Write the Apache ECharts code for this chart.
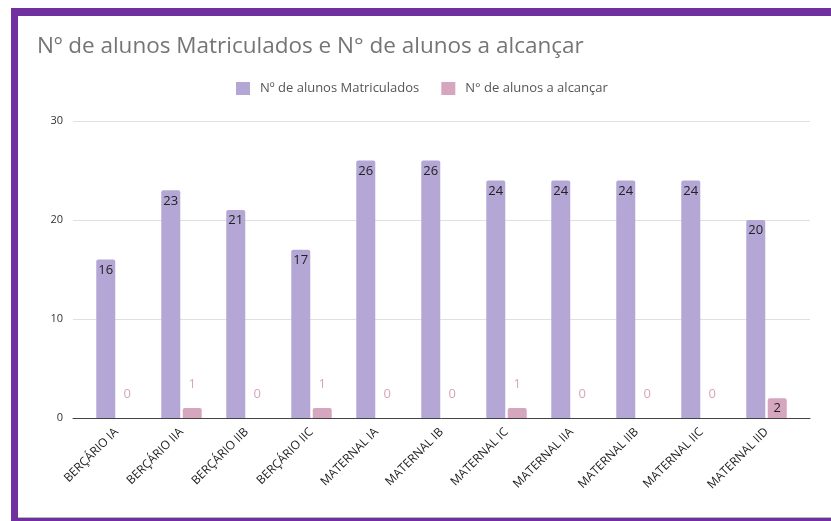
<!DOCTYPE html>
<html>
<head>
<meta charset="utf-8">
<script src="https://cdn.jsdelivr.net/npm/echarts@6/dist/echarts.min.js"></script>
<style>
  html, body { margin: 0; padding: 0; background: #fff; overflow: hidden; }
  #chart { position: absolute; left: 0; top: 0; width: 831px; height: 521px; }
  /* moldura roxa da captura */
  #frame {
    position: absolute; left: 11px; top: 8px; width: 840px; height: 513px;
    box-sizing: border-box;
    border-top: 8px solid #7030a0;
    border-left: 7px solid #7030a0;
    border-bottom: 3px solid #7030a0;
    box-shadow: inset 0 -1px 0 #b8b8b8;
    pointer-events: none;
  }
</style>
</head>
<body>
<div id="chart"></div>
<div id="frame"></div>
<script>
// categorias (turmas)
const turmas = ['BERÇÁRIO IA', 'BERÇÁRIO IIA', 'BERÇÁRIO IIB', 'BERÇÁRIO IIC', 'MATERNAL IA',
  'MATERNAL IB', 'MATERNAL IC', 'MATERNAL IIA', 'MATERNAL IIB', 'MATERNAL IIC', 'MATERNAL IID']
// Nº de alunos Matriculados
const matriculados = [16, 23, 21, 17, 26, 26, 24, 24, 24, 24, 20]
// N° de alunos a alcançar
const alcancar = [0, 1, 0, 1, 0, 0, 1, 0, 0, 0, 2]
// eixo y
const yTicks = [0, 10, 20, 30]

const corRoxo = '#b4a7d6'
const corRosa = '#d5a6bd'

const chart = echarts.init(document.getElementById('chart'))

// rótulo dentro da barra quando cabe, senão acima na cor da série
function rotulo(v, cor) {
  if (v >= 2) {
    return { position: 'insideTop', distance: 4, color: '#222' }
  }
  return { position: 'top', distance: 17, color: cor }
}

const option = {
  animation: false,
  textStyle: { fontFamily: '"Open Sans", sans-serif' },
  title: {
    text: 'Nº de alunos Matriculados e N° de alunos a alcançar',
    left: 37,
    top: 35,
    padding: 0,
    textStyle: { fontFamily: '"Open Sans", sans-serif', fontSize: 22.5, fontWeight: 'normal', color: '#757575' }
  },
  legend: {
    left: 236,
    top: 82,
    padding: 0,
    itemWidth: 14,
    itemHeight: 13,
    itemGap: 22,
    icon: 'rect',
    textStyle: { fontSize: 13, color: '#555', padding: [0, 0, 0, 5] },
    data: ['Nº de alunos Matriculados', 'N° de alunos a alcançar']
  },
  grid: [
    // grade de fundo (linhas e eixo)
    { left: 73, right: 21, top: 121, bottom: 103 },
    // barras
    { left: 84, right: 32, top: 121, bottom: 103 }
  ],
  xAxis: [
    {
      type: 'category', gridIndex: 0, data: turmas,
      axisLine: { lineStyle: { color: '#444', width: 1 } },
      axisTick: { show: false },
      axisLabel: { show: false }
    },
    {
      type: 'category', gridIndex: 1, data: turmas,
      axisLine: { show: false },
      axisTick: { show: false },
      axisLabel: { rotate: 45, fontSize: 12, color: '#222', margin: 12, interval: 0 }
    }
  ],
  yAxis: [
    {
      type: 'value', gridIndex: 0,
      min: yTicks[0], max: yTicks[yTicks.length - 1], interval: 10,
      axisLine: { show: false },
      axisTick: { show: false },
      axisLabel: { fontSize: 11, color: '#333', margin: 10 },
      splitLine: { lineStyle: { color: '#e0e0e0' } }
    },
    {
      type: 'value', gridIndex: 1,
      min: yTicks[0], max: yTicks[yTicks.length - 1], interval: 10,
      axisLine: { show: false }, axisTick: { show: false },
      axisLabel: { show: false }, splitLine: { show: false }
    }
  ],
  series: [
    {
      name: 'Nº de alunos Matriculados',
      type: 'bar', xAxisIndex: 1, yAxisIndex: 1,
      barWidth: 19, barGap: '13%',
      itemStyle: { color: corRoxo, borderRadius: [2, 2, 0, 0] },
      label: { show: true, fontSize: 13 },
      data: matriculados.map(v => ({ value: v, label: rotulo(v, corRoxo) }))
    },
    {
      name: 'N° de alunos a alcançar',
      type: 'bar', xAxisIndex: 1, yAxisIndex: 1,
      barWidth: 19, barGap: '13%',
      itemStyle: { color: corRosa, borderRadius: [2, 2, 0, 0] },
      label: { show: true, fontSize: 13 },
      data: alcancar.map(v => ({ value: v, label: rotulo(v, corRosa) }))
    }
  ]
}

chart.setOption(option)
</script>
</body>
</html>
